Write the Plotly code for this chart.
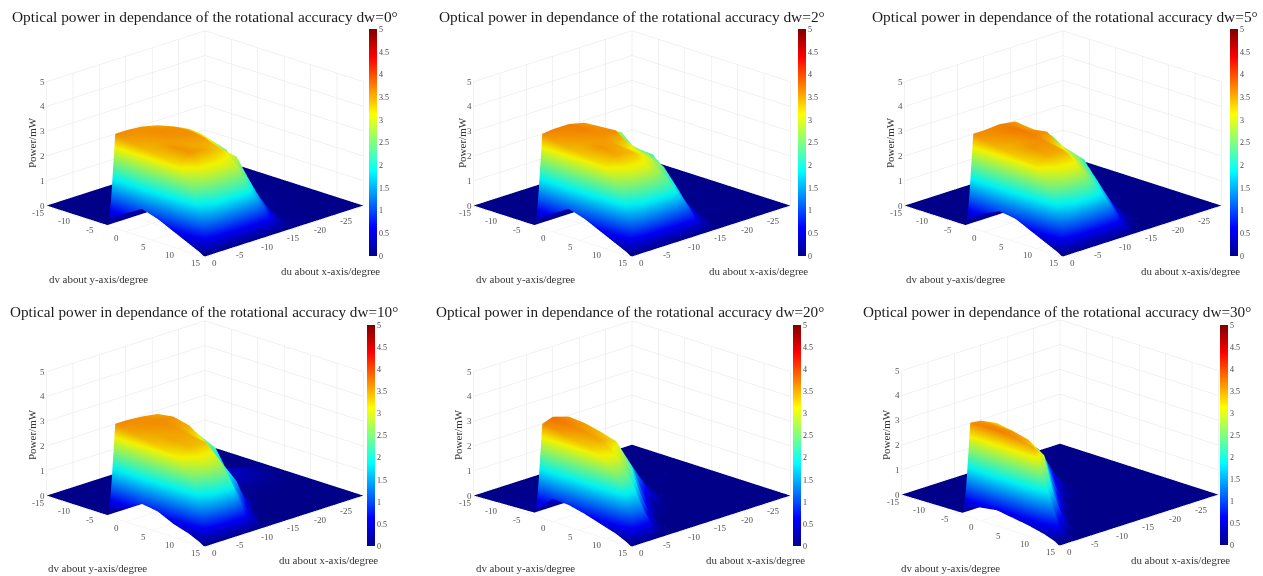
import plotly.graph_objects as go

W, H = 1263, 576

du_values = [0, -1, -3, -6, -9, -12, -14, -16, -18, -30]
dv_values = [-15, -3.5, -3, 0, 3, 6, 9, 12, 14, 14.7, 15]

power_dw0 = [
    [0, 0, 0.3, 0.7, 1.1, 0.9, 0.6, 0.3, 0.1, 0, 0],
    [0, 0, 3.65, 3.5, 3.4, 3.3, 3.2, 2.4, 1.1, 0.3, 0],
    [0, 0, 3.65, 3.55, 3.5, 3.6, 3.6, 2.9, 1.9, 0.8, 0],
    [0, 0, 3.6, 3.65, 3.6, 3.5, 3.5, 3.0, 2.1, 1.0, 0],
    [0, 0, 3.45, 3.6, 3.65, 3.55, 3.3, 2.9, 2.1, 1.0, 0],
    [0, 0, 3.2, 3.3, 3.2, 2.9, 2.8, 1.8, 1.1, 0.7, 0],
    [0, 0, 3.0, 3.0, 2.8, 2.5, 1.8, 1.0, 0.4, 0.2, 0],
    [0, 0, 2.7, 2.6, 2.4, 1.8, 0.9, 0.4, 0.15, 0.05, 0],
    [0, 0, 0.1, 0.1, 0.1, 0.1, 0.05, 0.05, 0.05, 0, 0],
    [0, 0, 0, 0, 0, 0, 0, 0, 0, 0, 0],
]
power_dw2 = [
    [0, 0, 0.3, 0.7, 1.1, 0.9, 0.6, 0.3, 0.1, 0, 0],
    [0, 0, 3.65, 3.5, 3.4, 3.3, 3.2, 2.4, 1.1, 0.3, 0],
    [0, 0, 3.7, 3.6, 3.5, 3.6, 3.5, 2.9, 1.9, 0.8, 0],
    [0, 0, 3.7, 3.7, 3.6, 3.5, 3.4, 3.0, 2.1, 1.0, 0],
    [0, 0, 3.55, 3.6, 3.65, 3.1, 3.0, 2.5, 2.1, 1.0, 0],
    [0, 0, 3.1, 3.2, 2.7, 2.7, 2.4, 1.6, 1.0, 0.7, 0],
    [0, 0, 2.9, 2.6, 2.5, 2.3, 1.5, 0.7, 0.3, 0.15, 0],
    [0, 0, 2.7, 2.1, 2.2, 1.4, 0.7, 0.3, 0.1, 0, 0],
    [0, 0, 0.1, 0.1, 0.1, 0.05, 0.05, 0, 0, 0, 0],
    [0, 0, 0, 0, 0, 0, 0, 0, 0, 0, 0],
]
power_dw5 = [
    [0, 0, 0.3, 0.7, 1.0, 0.9, 0.6, 0.3, 0.1, 0, 0],
    [0, 0, 3.65, 3.5, 3.4, 3.3, 3.2, 2.4, 1.1, 0.3, 0],
    [0, 0, 3.65, 3.6, 3.5, 3.6, 3.5, 2.9, 1.9, 0.8, 0],
    [0, 0, 3.7, 3.75, 3.7, 3.6, 3.5, 3.0, 2.1, 1.0, 0],
    [0, 0, 3.6, 3.5, 3.6, 3.1, 2.8, 2.2, 1.7, 1.0, 0],
    [0, 0, 3.1, 3.1, 2.7, 2.6, 2.0, 1.2, 0.55, 0.4, 0],
    [0, 0, 2.85, 2.6, 2.4, 2.0, 1.1, 0.3, 0.1, 0, 0],
    [0, 0, 2.55, 2.1, 2.0, 1.1, 0.5, 0.1, 0, 0, 0],
    [0, 0, 0.1, 0.1, 0.05, 0.05, 0, 0, 0, 0, 0],
    [0, 0, 0, 0, 0, 0, 0, 0, 0, 0, 0],
]
power_dw10 = [
    [0, 0, 0.3, 0.5, 0.9, 0.8, 0.5, 0.3, 0.1, 0, 0],
    [0, 0, 3.65, 3.5, 3.4, 3.3, 3.1, 2.4, 1.1, 0.2, 0],
    [0, 0, 3.65, 3.6, 3.5, 3.5, 3.4, 2.9, 1.9, 0.6, 0],
    [0, 0, 3.6, 3.65, 3.6, 3.5, 3.4, 2.8, 2.1, 1.0, 0],
    [0, 0, 3.5, 3.6, 3.45, 3.0, 2.4, 1.4, 0.55, 0.3, 0],
    [0, 0, 3.1, 3.0, 2.6, 2.0, 1.4, 0.1, 0, 0, 0],
    [0, 0, 2.7, 2.5, 2.2, 1.1, 0.1, 0, 0, 0, 0],
    [0, 0, 2.3, 1.8, 1.1, 0.4, 0, 0, 0, 0, 0],
    [0, 0, 0.6, 0.4, 0.1, 0, 0, 0, 0, 0, 0],
    [0, 0, 0, 0, 0, 0, 0, 0, 0, 0, 0],
]
power_dw20 = [
    [0, 0.1, 0.3, 0.9, 0.85, 0.7, 0.5, 0.3, 0.1, 0, 0],
    [0, 0.1, 3.65, 3.6, 3.4, 3.3, 3.0, 2.3, 1.0, 0.1, 0],
    [0, 0.1, 3.8, 3.7, 3.6, 3.5, 3.1, 2.2, 1.2, 0.3, 0],
    [0, 0.1, 3.6, 3.55, 3.4, 3.2, 2.3, 0.4, 0.05, 0, 0],
    [0, 0.05, 2.9, 3.0, 2.8, 2.0, 0.1, 0, 0, 0, 0],
    [0, 0, 2.3, 2.4, 1.6, 0.2, 0, 0, 0, 0, 0],
    [0, 0, 1.6, 1.6, 0.8, 0.1, 0, 0, 0, 0, 0],
    [0, 0, 1.0, 0.8, 0.2, 0, 0, 0, 0, 0, 0],
    [0, 0, 0.1, 0, 0, 0, 0, 0, 0, 0, 0],
    [0, 0, 0, 0, 0, 0, 0, 0, 0, 0, 0],
]
power_dw30 = [
    [0, 0.05, 0.3, 0.5, 0.6, 0.5, 0.4, 0.25, 0.1, 0, 0],
    [0, 0.05, 3.65, 3.7, 3.7, 3.6, 3.5, 1.7, 0.4, 0, 0],
    [0, 0.05, 3.6, 3.6, 3.6, 3.45, 3.0, 0.3, 0, 0, 0],
    [0, 0.05, 3.3, 3.2, 3.0, 2.6, 0.1, 0, 0, 0, 0],
    [0, 0, 2.7, 2.6, 2.2, 0.1, 0, 0, 0, 0, 0],
    [0, 0, 2.1, 1.8, 0.1, 0, 0, 0, 0, 0, 0],
    [0, 0, 1.7, 0.5, 0, 0, 0, 0, 0, 0, 0],
    [0, 0, 0.9, 0.1, 0, 0, 0, 0, 0, 0, 0],
    [0, 0, 0, 0, 0, 0, 0, 0, 0, 0, 0],
    [0, 0, 0, 0, 0, 0, 0, 0, 0, 0, 0],
]

titles = [
    "Optical power in dependance of the rotational accuracy dw=0°",
    "Optical power in dependance of the rotational accuracy dw=2°",
    "Optical power in dependance of the rotational accuracy dw=5°",
    "Optical power in dependance of the rotational accuracy dw=10°",
    "Optical power in dependance of the rotational accuracy dw=20°",
    "Optical power in dependance of the rotational accuracy dw=30°",
]
tables = [power_dw0, power_dw2, power_dw5, power_dw10, power_dw20, power_dw30]

du_ticks = [0, -5, -10, -15, -20, -25]
dv_ticks = [-15, -10, -5, 0, 5, 10, 15]
z_ticks = [0, 1, 2, 3, 4, 5]
cb_ticks = [0, 0.5, 1, 1.5, 2, 2.5, 3, 3.5, 4, 4.5, 5]
cb_labels = ["0", "0.5", "1", "1.5", "2", "2.5", "3", "3.5", "4", "4.5", "5"]

jet = [
    [0.0, "rgb(0,0,143)"], [0.125, "rgb(0,0,255)"], [0.375, "rgb(0,255,255)"],
    [0.625, "rgb(255,255,0)"], [0.875, "rgb(255,0,0)"], [1.0, "rgb(128,0,0)"],
]

panels = [
    dict(cx=205, cy=256, cb=369, cbt=29, cbb=256, tx=205, ty=17, zl=32, zly=143, dvx=98, dvy=279, dux=330, duy=271, ts=15.4),
    dict(cx=632, cy=256, cb=798, cbt=29, cbb=256, tx=632, ty=17, zl=462, zly=143, dvx=525, dvy=279, dux=758, duy=271, ts=15.4),
    dict(cx=1063, cy=256, cb=1230, cbt=29, cbb=256, tx=1065, ty=17, zl=890, zly=143, dvx=955, dvy=279, dux=1190, duy=271, ts=15.4),
    dict(cx=205, cy=546, cb=367, cbt=325, cbb=546, tx=204, ty=311, zl=32, zly=435, dvx=97, dvy=568, dux=328, duy=560, ts=15.2),
    dict(cx=632, cy=546, cb=793, cbt=325, cbb=546, tx=630, ty=311, zl=458, zly=435, dvx=525, dvy=568, dux=755, duy=560, ts=15.2),
    dict(cx=1060, cy=545, cb=1220, cbt=325, cbb=545, tx=1057, ty=311, zl=886, zly=435, dvx=951, dvy=568, dux=1180, duy=560, ts=15.2),
]

SER = "Liberation Serif"
TICK = dict(family=SER, size=9, color="#555")
fig = go.Figure()
annots = []
HW, HH = 190, 140
for i, (p, z) in enumerate(zip(panels, tables)):
    name = "scene" if i == 0 else f"scene{i+1}"
    cy_mid = p["cy"] - 112
    fig.add_trace(go.Surface(
        x=du_values, y=dv_values, z=list(map(list, zip(*z))), scene=name,
        colorscale=jet, cmin=0, cmax=5, hoverinfo="skip",
        lighting=dict(ambient=0.95, diffuse=0.12, specular=0.0, roughness=1.0, fresnel=0.0),
        lightposition=dict(x=1000, y=1000, z=3000),
        colorbar=dict(
            x=p["cb"] / W, xanchor="left", xpad=0, ypad=0,
            y=1 - p["cbb"] / H, yanchor="bottom",
            len=(p["cbb"] - p["cbt"]) / H, lenmode="fraction",
            thickness=8, thicknessmode="pixels", outlinewidth=0,
            tickvals=cb_ticks, ticktext=cb_labels, ticks="",
            tickfont=dict(family=SER, size=8, color="#444"),
        ),
    ))
    axis = dict(showbackground=False, showgrid=True, gridcolor="#e4e4e4", gridwidth=1,
                zeroline=False, showline=False, showspikes=False, title=dict(text=""),
                showticklabels=False, ticks="")
    tick_notes = (
        [dict(x=0, y=v, z=0, text=str(v), xshift=-9, yshift=-7) for v in dv_ticks]
        + [dict(x=u, y=15, z=0, text=str(u), xshift=9, yshift=-7) for u in du_ticks]
        + [dict(x=0, y=-15, z=k, text=str(k), xshift=-4, yshift=0) for k in z_ticks]
    )
    for n in tick_notes:
        n.update(showarrow=False, font=TICK)
    scene = dict(
        domain=dict(x=[(p["cx"] - HW) / W, (p["cx"] + HW) / W],
                    y=[1 - (cy_mid + HH) / H, 1 - (cy_mid - HH) / H]),
        aspectmode="manual", aspectratio=dict(x=1.6, y=1.6, z=0.94),
        camera=dict(eye=dict(x=1.25, y=1.25, z=0.6), center=dict(x=0, y=0, z=0),
                    up=dict(x=0, y=0, z=1), projection=dict(type="orthographic")),
        xaxis=dict(axis, range=[-30, 0], tickvals=du_ticks),
        yaxis=dict(axis, range=[-15, 15], tickvals=dv_ticks),
        zaxis=dict(axis, range=[-0.03, 5], tickvals=z_ticks),
        annotations=tick_notes,
    )
    fig.update_layout({name: scene})
    annots.append(dict(text=titles[i], x=p["tx"] / W, y=1 - p["ty"] / H, xref="paper", yref="paper",
                       showarrow=False, xanchor="center", yanchor="middle",
                       font=dict(family=SER, size=p["ts"], color="#1a1a1a")))
    annots.append(dict(text="Power/mW", x=p["zl"] / W, y=1 - p["zly"] / H, xref="paper", yref="paper",
                       showarrow=False, textangle=-90, xanchor="center", yanchor="middle",
                       font=dict(family=SER, size=11, color="#333")))
    annots.append(dict(text="dv about y-axis/degree", x=p["dvx"] / W, y=1 - p["dvy"] / H, xref="paper", yref="paper",
                       showarrow=False, xanchor="center", yanchor="middle",
                       font=dict(family=SER, size=10.9, color="#333")))
    annots.append(dict(text="du about x-axis/degree", x=p["dux"] / W, y=1 - p["duy"] / H, xref="paper", yref="paper",
                       showarrow=False, xanchor="center", yanchor="middle",
                       font=dict(family=SER, size=10.9, color="#333")))

fig.update_layout(width=W, height=H, margin=dict(l=0, r=0, t=0, b=0), paper_bgcolor="white",
                  showlegend=False, annotations=annots)
fig.write_html("out.html", config=dict(displayModeBar=False),
               post_script="document.body.style.margin='0';document.body.style.overflow='hidden';")
